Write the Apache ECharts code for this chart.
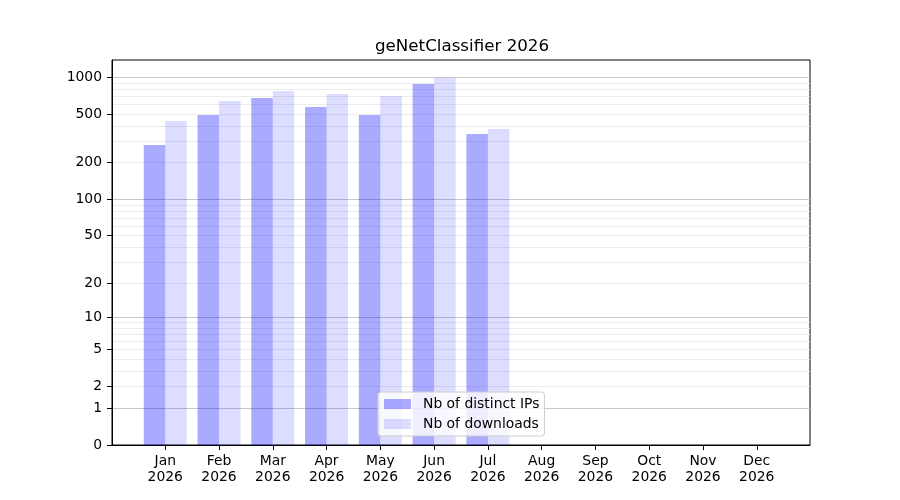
<!DOCTYPE html>
<html>
<head>
<meta charset="utf-8">
<script src="https://cdn.jsdelivr.net/npm/echarts@6/dist/echarts.min.js"></script>
<style>
html,body{margin:0;padding:0;background:#fff;}
#chart{width:900px;height:500px;}
</style>
</head>
<body>
<div id="chart"></div>
<script>
// ---- data ----
const months = ['Jan','Feb','Mar','Apr','May','Jun','Jul','Aug','Sep','Oct','Nov','Dec'];
const year = '2026';
const distinctIPs = [280, 492, 677, 573, 492, 882, 344, 0, 0, 0, 0, 0];
const downloads   = [439, 640, 773, 730, 704, 990, 378, 0, 0, 0, 0, 0];
const yTickLabels = [0, 1, 2, 5, 10, 20, 50, 100, 200, 500, 1000];
const yMajorGrid  = [1, 10, 100, 1000];
const yMinorGrid  = [2,3,4,5,6,7,8,9,20,30,40,50,60,70,80,90,200,300,400,500,600,700,800,900];

// scale transform: log10(1 + v)
const tf = v => Math.log10(1 + v);
const inv = t => Math.round(Math.pow(10, t) - 1);

const font = 'DejaVu Sans';
const chart = echarts.init(document.getElementById('chart'), null, {renderer: 'canvas'});

const yBase = {
  type: 'value', min: 0, max: 3.1415, position: 'left',
  axisLine: {show: false, onZero: false}, axisLabel: {show: false}, axisTick: {show: false},
  splitLine: {show: false}
};

chart.setOption({
  animation: false,
  backgroundColor: '#fff',
  title: {
    text: 'geNetClassifier 2026', left: 375, top: 38, padding: 0,
    textStyle: {fontFamily: font, fontSize: 16.7, fontWeight: 'normal', color: '#000'}
  },
  grid: {
    left: 112, right: 90, top: 60, bottom: 55,
    show: true, borderColor: '#000', borderWidth: 1, backgroundColor: 'transparent',
    containLabel: false
  },
  legend: {
    orient: 'vertical', left: 378, top: 392,
    padding: [5, 5, 5, 6], itemGap: 6, itemWidth: 27, itemHeight: 10,
    backgroundColor: 'rgba(255,255,255,0.8)', borderColor: '#cccccc', borderWidth: 1, borderRadius: 3,
    icon: 'rect',
    textStyle: {fontFamily: font, fontSize: 13.9, color: '#000', padding: [0, 0, 0, 7]},
    data: ['Nb of distinct IPs', 'Nb of downloads']
  },
  xAxis: {
    type: 'value', min: -0.99, max: 11.99,
    axisLine: {show: true, onZero: false, lineStyle: {color: '#000', width: 1}},
    axisTick: {show: true, length: 5, inside: false, lineStyle: {color: '#000', width: 1},
               customValues: months.map((m, i) => i)},
    axisLabel: {
      show: true, margin: 8, fontFamily: font, fontSize: 13.9, color: '#000', lineHeight: 16,
      customValues: months.map((m, i) => i),
      formatter: v => months[Math.round(v)] + '\n' + year
    },
    splitLine: {show: false}
  },
  yAxis: [
    {
      type: 'value', min: 0, max: 3.1415, position: 'left',
      axisLine: {show: true, onZero: false, lineStyle: {color: '#000', width: 1}},
      axisTick: {show: true, length: 5, inside: false, lineStyle: {color: '#000', width: 1},
                 customValues: yTickLabels.map(tf)},
      axisLabel: {show: true, margin: 10, fontFamily: font, fontSize: 13.9, color: '#000',
                  customValues: yTickLabels.map(tf), formatter: v => String(inv(v))},
      splitLine: {show: false}
    },
    Object.assign({}, yBase, {
      axisTick: {show: false, customValues: yMajorGrid.map(tf)},
      splitLine: {show: true, lineStyle: {color: '#c8c8c8', width: 1}}
    }),
    Object.assign({}, yBase, {
      axisTick: {show: false, customValues: yMinorGrid.map(tf)},
      splitLine: {show: true, lineStyle: {color: '#ececec', width: 1}}
    })
  ],
  series: [
    {
      name: 'Nb of distinct IPs', type: 'bar', yAxisIndex: 0,
      barWidth: 21.5, barGap: '0%',
      itemStyle: {color: 'rgba(0,0,255,0.333)'},
      data: distinctIPs.map((v, i) => [i, tf(v)])
    },
    {
      name: 'Nb of downloads', type: 'bar', yAxisIndex: 0,
      barWidth: 21.5, barGap: '0%',
      itemStyle: {color: 'rgba(0,0,255,0.133)'},
      data: downloads.map((v, i) => [i, tf(v)])
    }
  ]
});
</script>
</body>
</html>
